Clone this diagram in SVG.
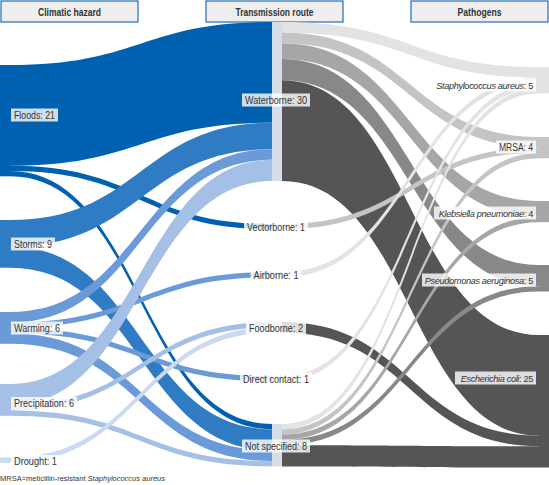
<svg xmlns="http://www.w3.org/2000/svg" width="549" height="485" viewBox="0 0 549 485">
<style>
text{font-family:"Liberation Sans",Arial,sans-serif;fill:#333}
.lab{font-size:10px}
.rl{font-size:9.2px;letter-spacing:-0.35px}
.it{font-style:italic}
.hd{font-size:10px;font-weight:bold}
.hbox{fill:#eeeeee;stroke:#1f6fba;stroke-width:1.2}
.bg{fill:#fff;fill-opacity:0.8}
.fl{fill:#0061b0}.st{fill:#2f7cc4}.wa{fill:#6a9bd8}.pr{fill:#a5c0e7}.dr{fill:#cbdaf1}
.sa{fill:#e3e3e3}.mr{fill:#c4c4c4}.kl{fill:#a6a6a6}.ps{fill:#888888}.ec{fill:#555555}
.mid{fill:#d5dde6}
</style>
<g id="headers">
<rect class="hbox" x="1" y="1" width="137" height="21"/>
<text class="hd" x="69.5" y="15.5" text-anchor="middle" textLength="63" lengthAdjust="spacingAndGlyphs">Climatic hazard</text>
<rect class="hbox" x="206" y="1" width="137" height="21"/>
<text class="hd" x="274.5" y="15.5" text-anchor="middle" textLength="78" lengthAdjust="spacingAndGlyphs">Transmission route</text>
<rect class="hbox" x="411" y="1" width="137" height="21"/>
<text class="hd" x="479.5" y="15.5" text-anchor="middle" textLength="44" lengthAdjust="spacingAndGlyphs">Pathogens</text>
</g>
<g id="connectors">
<path class="fl" d="M10,65 C141,65 141,22 272,22 L272,122.7 C141,122.7 141,165.7 10,165.7Z"/>
<path class="fl" d="M10,165.7 C141,165.7 141,224 272,224 L272,229.3 C141,229.3 141,171 10,171Z"/>
<path class="fl" d="M10,171 C141,171 141,424 272,424 L272,429.3 C141,429.3 141,176.3 10,176.3Z"/>
<path class="st" d="M10,220 C141,220 141,122.7 272,122.7 L272,149.2 C141,149.2 141,246.5 10,246.5Z"/>
<path class="st" d="M10,246.5 C141,246.5 141,429.3 272,429.3 L272,450.5 C141,450.5 141,267.7 10,267.7Z"/>
<path class="wa" d="M10,312 C141,312 141,149.2 272,149.2 L272,159.8 C141,159.8 141,322.6 10,322.6Z"/>
<path class="wa" d="M10,322.6 C141,322.6 141,272 272,272 L272,277.3 C141,277.3 141,327.9 10,327.9Z"/>
<path class="wa" d="M10,327.9 C141,327.9 141,376 272,376 L272,381.3 C141,381.3 141,333.2 10,333.2Z"/>
<path class="wa" d="M10,333.2 C141,333.2 141,450.5 272,450.5 L272,461.1 C141,461.1 141,343.8 10,343.8Z"/>
<path class="pr" d="M10,384 C141,384 141,159.8 272,159.8 L272,181 C141,181 141,405.2 10,405.2Z"/>
<path class="pr" d="M10,405.2 C141,405.2 141,322 272,322 L272,327.3 C141,327.3 141,410.5 10,410.5Z"/>
<path class="pr" d="M10,410.5 C141,410.5 141,461.1 272,461.1 L272,466.4 C141,466.4 141,415.8 10,415.8Z"/>
<path class="dr" d="M10,457.5 C141,457.5 141,327.3 272,327.3 L272,332.6 C141,332.6 141,462.8 10,462.8Z"/>
<path class="sa" d="M282,22 C410.5,22 410.5,67 539,67 L539,77.6 C410.5,77.6 410.5,32.6 282,32.6Z"/>
<path class="mr" d="M282,32.6 C410.5,32.6 410.5,137 539,137 L539,147.6 C410.5,147.6 410.5,43.2 282,43.2Z"/>
<path class="kl" d="M282,43.2 C410.5,43.2 410.5,201 539,201 L539,216.9 C410.5,216.9 410.5,59.1 282,59.1Z"/>
<path class="ps" d="M282,59.1 C410.5,59.1 410.5,265 539,265 L539,286.2 C410.5,286.2 410.5,80.3 282,80.3Z"/>
<path class="ec" d="M282,80.3 C410.5,80.3 410.5,335 539,335 L539,435.7 C410.5,435.7 410.5,181 282,181Z"/>
<path class="mr" d="M282,224 C410.5,224 410.5,147.6 539,147.6 L539,152.9 C410.5,152.9 410.5,229.3 282,229.3Z"/>
<path class="sa" d="M282,272 C410.5,272 410.5,77.6 539,77.6 L539,82.9 C410.5,82.9 410.5,277.3 282,277.3Z"/>
<path class="ec" d="M282,322 C410.5,322 410.5,435.7 539,435.7 L539,446.3 C410.5,446.3 410.5,332.6 282,332.6Z"/>
<path class="sa" d="M282,376 C410.5,376 410.5,82.9 539,82.9 L539,88.2 C410.5,88.2 410.5,381.3 282,381.3Z"/>
<path class="sa" d="M282,424 C410.5,424 410.5,88.2 539,88.2 L539,93.5 C410.5,93.5 410.5,429.3 282,429.3Z"/>
<path class="mr" d="M282,429.3 C410.5,429.3 410.5,152.9 539,152.9 L539,158.2 C410.5,158.2 410.5,434.6 282,434.6Z"/>
<path class="kl" d="M282,434.6 C410.5,434.6 410.5,216.9 539,216.9 L539,222.2 C410.5,222.2 410.5,439.9 282,439.9Z"/>
<path class="ps" d="M282,439.9 C410.5,439.9 410.5,286.2 539,286.2 L539,291.5 C410.5,291.5 410.5,445.2 282,445.2Z"/>
<path class="ec" d="M282,445.2 C410.5,445.2 410.5,446.3 539,446.3 L539,467.5 C410.5,467.5 410.5,466.4 282,466.4Z"/>
</g>
<g id="floods"><rect class="fl" x="0" y="65" width="10" height="111.3"/><rect class="bg" x="11" y="108.5" width="47" height="13"/><text class="lab" x="14" y="118.5" textLength="41" lengthAdjust="spacingAndGlyphs">Floods: 21</text></g>
<g id="storms"><rect class="st" x="0" y="220" width="10" height="47.7"/><rect class="bg" x="11" y="237.5" width="44" height="13"/><text class="lab" x="14" y="247.5" textLength="38" lengthAdjust="spacingAndGlyphs">Storms: 9</text></g>
<g id="warming"><rect class="wa" x="0" y="312" width="10" height="31.8"/><rect class="bg" x="11" y="321.5" width="52" height="13"/><text class="lab" x="14" y="331.5" textLength="46" lengthAdjust="spacingAndGlyphs">Warming: 6</text></g>
<g id="precipitation"><rect class="pr" x="0" y="384" width="10" height="31.8"/><rect class="bg" x="11" y="397" width="66" height="13"/><text class="lab" x="14" y="407" textLength="60" lengthAdjust="spacingAndGlyphs">Precipitation: 6</text></g>
<g id="drought"><rect class="dr" x="0" y="457.5" width="10" height="5.3"/><rect class="bg" x="11" y="455" width="49" height="13"/><text class="lab" x="14" y="465" textLength="43" lengthAdjust="spacingAndGlyphs">Drought: 1</text></g>
<g id="waterborne"><rect class="mid" x="272" y="22" width="10" height="159"/><rect class="bg" x="242" y="93.5" width="68" height="13"/><text class="lab" x="276" y="103.5" text-anchor="middle" textLength="62" lengthAdjust="spacingAndGlyphs">Waterborne: 30</text></g>
<g id="vectorborne"><rect class="mid" x="272" y="224" width="10" height="5.3"/><rect class="bg" x="244" y="220.5" width="64" height="13"/><text class="lab" x="276" y="230.5" text-anchor="middle" textLength="58" lengthAdjust="spacingAndGlyphs">Vectorborne: 1</text></g>
<g id="airborne"><rect class="mid" x="272" y="272" width="10" height="5.3"/><rect class="bg" x="250.5" y="269" width="51" height="13"/><text class="lab" x="276" y="279" text-anchor="middle" textLength="45" lengthAdjust="spacingAndGlyphs">Airborne: 1</text></g>
<g id="foodborne"><rect class="mid" x="272" y="322" width="10" height="10.6"/><rect class="bg" x="246" y="321.5" width="60" height="13"/><text class="lab" x="276" y="331.5" text-anchor="middle" textLength="54" lengthAdjust="spacingAndGlyphs">Foodborne: 2</text></g>
<g id="direct-contact"><rect class="mid" x="272" y="376" width="10" height="5.3"/><rect class="bg" x="240" y="372.5" width="72" height="13"/><text class="lab" x="276" y="382.5" text-anchor="middle" textLength="66" lengthAdjust="spacingAndGlyphs">Direct contact: 1</text></g>
<g id="not-specified"><rect class="mid" x="272" y="424" width="10" height="42.4"/><rect class="bg" x="242" y="439.5" width="68" height="13"/><text class="lab" x="276" y="449.5" text-anchor="middle" textLength="62" lengthAdjust="spacingAndGlyphs">Not specified: 8</text></g>
<g id="s-aureus"><rect class="sa" x="539" y="67" width="10" height="26.5"/><rect class="bg" x="434" y="78.5" width="102" height="13"/><text class="rl" x="533" y="88.5" text-anchor="end"><tspan class="it">Staphylococcus aureus</tspan>: 5</text></g>
<g id="mrsa"><rect class="mr" x="539" y="137" width="10" height="21.2"/><rect class="bg" x="496" y="140.5" width="40" height="13"/><text class="lab" x="533" y="150.5" text-anchor="end" textLength="34" lengthAdjust="spacingAndGlyphs">MRSA: 4</text></g>
<g id="klebsiella"><rect class="kl" x="539" y="201" width="10" height="21.2"/><rect class="bg" x="434" y="206.5" width="102" height="13"/><text class="rl" x="533" y="216.5" text-anchor="end"><tspan class="it">Klebsiella pneumoniae</tspan>: 4</text></g>
<g id="pseudomonas"><rect class="ps" x="539" y="265" width="10" height="26.5"/><rect class="bg" x="422" y="273.5" width="114" height="13"/><text class="rl" x="533" y="283.5" text-anchor="end"><tspan class="it">Pseudomonas aeruginosa</tspan>: 5</text></g>
<g id="e-coli"><rect class="ec" x="539" y="335" width="10" height="132.5"/><rect class="bg" x="455" y="371.5" width="81" height="13"/><text class="rl" x="533" y="381.5" text-anchor="end"><tspan class="it">Escherichia coli</tspan>: 25</text></g>
<text x="0" y="481" font-size="8" textLength="165" lengthAdjust="spacingAndGlyphs">MRSA=meticillin-resistant <tspan class="it">Staphylococcus aureus</tspan></text>
</svg>
